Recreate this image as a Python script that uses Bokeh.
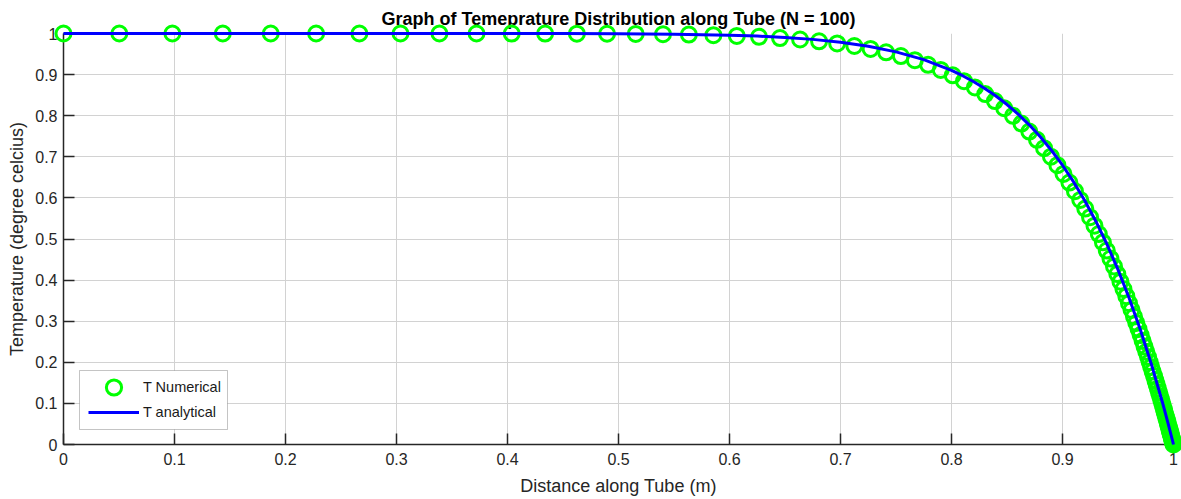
from bokeh.plotting import figure
from bokeh.models import FixedTicker, Legend, LegendItem, BoxAnnotation
from bokeh.embed import file_html
from bokeh.resources import INLINE

# Numerical solution on the stretched grid (N = 100 nodes)
x_num = [0.0000, 0.0503, 0.0981, 0.1435, 0.1867, 0.2276, 0.2666, 0.3036, 0.3387, 0.3721,
         0.4038, 0.4339, 0.4625, 0.4897, 0.5155, 0.5401, 0.5634, 0.5855, 0.6066, 0.6266,
         0.6455, 0.6636, 0.6807, 0.6970, 0.7125, 0.7271, 0.7411, 0.7544, 0.7670, 0.7789,
         0.7903, 0.8011, 0.8113, 0.8211, 0.8304, 0.8391, 0.8475, 0.8554, 0.8630, 0.8701,
         0.8770, 0.8834, 0.8896, 0.8954, 0.9009, 0.9062, 0.9112, 0.9160, 0.9205, 0.9248,
         0.9288, 0.9327, 0.9364, 0.9399, 0.9432, 0.9464, 0.9494, 0.9522, 0.9549, 0.9575,
         0.9599, 0.9622, 0.9644, 0.9665, 0.9685, 0.9704, 0.9722, 0.9739, 0.9755, 0.9771,
         0.9785, 0.9799, 0.9812, 0.9825, 0.9837, 0.9848, 0.9859, 0.9869, 0.9879, 0.9888,
         0.9897, 0.9905, 0.9913, 0.9920, 0.9927, 0.9934, 0.9941, 0.9947, 0.9952, 0.9958,
         0.9963, 0.9968, 0.9973, 0.9977, 0.9982, 0.9986, 0.9989, 0.9993, 0.9997, 1.0000]

t_num = [1.0000, 1.0000, 1.0000, 1.0000, 1.0000, 1.0000, 1.0000, 1.0000, 1.0000, 1.0000,
         0.9999, 0.9998, 0.9996, 0.9994, 0.9989, 0.9982, 0.9973, 0.9960, 0.9942, 0.9919,
         0.9890, 0.9854, 0.9810, 0.9757, 0.9696, 0.9624, 0.9543, 0.9452, 0.9350, 0.9237,
         0.9114, 0.8982, 0.8839, 0.8687, 0.8526, 0.8357, 0.8181, 0.7997, 0.7809, 0.7614,
         0.7413, 0.7211, 0.7003, 0.6795, 0.6584, 0.6373, 0.6163, 0.5951, 0.5741, 0.5532,
         0.5325, 0.5120, 0.4918, 0.4719, 0.4524, 0.4332, 0.4146, 0.3962, 0.3783, 0.3608,
         0.3439, 0.3274, 0.3114, 0.2958, 0.2808, 0.2662, 0.2521, 0.2384, 0.2254, 0.2127,
         0.2005, 0.1887, 0.1774, 0.1666, 0.1561, 0.1461, 0.1364, 0.1271, 0.1183, 0.1098,
         0.1016, 0.0938, 0.0863, 0.0792, 0.0724, 0.0658, 0.0596, 0.0536, 0.0479, 0.0426,
         0.0373, 0.0324, 0.0276, 0.0231, 0.0188, 0.0147, 0.0108, 0.0071, 0.0035, 0.0000]

# Analytical temperature profile
x_an = [0.0, 0.1, 0.2, 0.3, 0.4, 0.45, 0.5, 0.55, 0.6, 0.625, 0.65, 0.675, 0.7, 0.725,
        0.75, 0.775, 0.8, 0.81, 0.82, 0.83, 0.84, 0.85, 0.86, 0.87, 0.88, 0.89, 0.9,
        0.91, 0.92, 0.93, 0.94, 0.95, 0.96, 0.97, 0.98, 0.99, 0.995, 1.0]
t_an = [1.0, 1.0, 1.0, 1.0, 1.0, 0.9998, 0.9994, 0.9984, 0.9960, 0.9938, 0.9904, 0.9857,
        0.9788, 0.9690, 0.9553, 0.9363, 0.9102, 0.8973, 0.8827, 0.8663, 0.8479, 0.8271,
        0.8039, 0.7778, 0.7486, 0.7159, 0.6795, 0.6389, 0.5937, 0.5433, 0.4874, 0.4253,
        0.3565, 0.2803, 0.1960, 0.1029, 0.0527, 0.0]

x_ticks = [0.0, 0.1, 0.2, 0.3, 0.4, 0.5, 0.6, 0.7, 0.8, 0.9, 1.0]
x_tick_labels = ["0", "0.1", "0.2", "0.3", "0.4", "0.5", "0.6", "0.7", "0.8", "0.9", "1"]
y_ticks = [0.0, 0.1, 0.2, 0.3, 0.4, 0.5, 0.6, 0.7, 0.8, 0.9, 1.0]
y_tick_labels = ["0", "0.1", "0.2", "0.3", "0.4", "0.5", "0.6", "0.7", "0.8", "0.9", "1"]

FONT = "Liberation Sans"
INK = "#262626"

p = figure(width=1181, height=499, x_range=(0, 1), y_range=(0, 1),
           output_backend="svg", toolbar_location=None,
           min_border_left=63, min_border_right=8, min_border_top=33, min_border_bottom=55)
p.background_fill_color = "white"
p.border_fill_color = "white"
p.outline_line_color = None

p.title.text = "Graph of Temeprature Distribution along Tube (N = 100)"
p.title.align = "center"
p.title.text_font = FONT
p.title.text_font_size = "18px"
p.title.text_font_style = "bold"
p.title.text_color = "black"

p.xaxis.axis_label = "Distance along Tube (m)"
p.yaxis.axis_label = "Temperature (degree celcius)"
p.xaxis.ticker = FixedTicker(ticks=x_ticks)
p.yaxis.ticker = FixedTicker(ticks=y_ticks)
p.xaxis.major_label_overrides = dict(zip(x_ticks, x_tick_labels))
p.yaxis.major_label_overrides = dict(zip(y_ticks, y_tick_labels))

for ax in (p.xaxis[0], p.yaxis[0]):
    ax.major_tick_in = 11
    ax.major_tick_out = 0
    ax.minor_tick_line_color = None
    ax.axis_line_color = INK
    ax.axis_line_width = 1.5
    ax.major_tick_line_color = INK
    ax.major_tick_line_width = 1.5
    ax.major_label_text_font = FONT
    ax.major_label_text_font_size = "16px"
    ax.major_label_text_color = INK
    ax.axis_label_text_font = FONT
    ax.axis_label_text_font_size = "18px"
    ax.axis_label_text_font_style = "normal"
    ax.axis_label_text_color = INK

p.xaxis.major_label_standoff = 8
p.xaxis.axis_label_standoff = 8
p.yaxis.major_label_standoff = 6
p.yaxis.axis_label_standoff = 5

p.xgrid.grid_line_color = "#d2d2d2"
p.ygrid.grid_line_color = "#d2d2d2"
p.xgrid.grid_line_width = 1
p.ygrid.grid_line_width = 1

r_num = p.scatter(x_num, t_num, marker="circle", size=15, fill_color=None,
                  line_color="#00ff00", line_width=3, level="overlay")
r_an = p.line(x_an, t_an, line_color="#0000ff", line_width=3, level="overlay")

# Legend frame, then one legend row per series on top of it
box = BoxAnnotation(left=16, right=164, bottom=15, top=74,
                    left_units="screen", right_units="screen",
                    bottom_units="screen", top_units="screen",
                    fill_color="white", fill_alpha=1.0,
                    line_color="#3a3a3a", line_width=1)
p.add_layout(box)

legend_style = dict(glyph_width=51, label_standoff=4, padding=0, spacing=0, margin=0,
                    border_line_color=None, background_fill_alpha=0.0,
                    label_text_font=FONT, label_text_font_size="14.5px",
                    label_text_color="#1a1a1a")

legend_num = Legend(items=[LegendItem(label="T Numerical", renderers=[r_num])],
                    location=(25, 38), glyph_height=38, **legend_style)
legend_an = Legend(items=[LegendItem(label="T analytical", renderers=[r_an])],
                   location=(25, 22), glyph_height=20, **legend_style)
p.add_layout(legend_num)
p.add_layout(legend_an)

open("out.html", "w").write(file_html(p, INLINE))
